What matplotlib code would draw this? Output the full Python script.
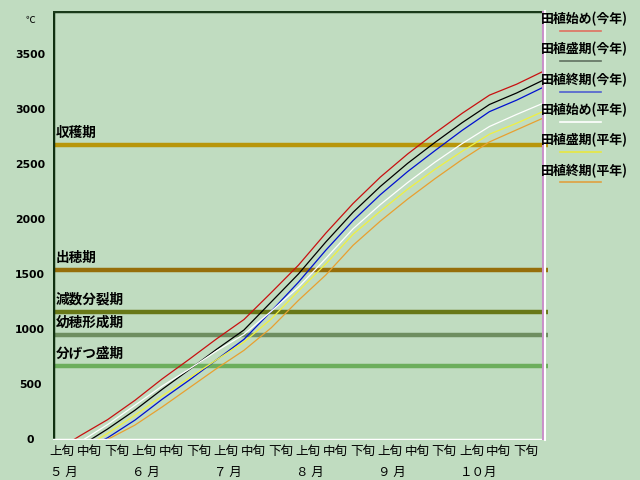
import matplotlib.pyplot as plt
from matplotlib.lines import Line2D

plt.rcParams['font.family'] = ['Noto Sans CJK JP', 'DejaVu Sans']

# x = dekad index from May 1 (0) to Oct 31 (18)
dekad = list(range(2, 19))
# cumulative temperature (℃) read at each dekad boundary, with the start point in front
red_x = [0.74, 1] + dekad
red_y = [0, 40, 185, 360, 555, 735, 920, 1095, 1340, 1590, 1880, 2150, 2390, 2600, 2790, 2970, 3135, 3235, 3355]
black_x = [1.36] + dekad
black_y = [0, 100, 270, 460, 640, 825, 1000, 1255, 1510, 1800, 2070, 2305, 2515, 2705, 2885, 3050, 3155, 3275]
blue_x = [1.84] + dekad
blue_y = [0, 20, 180, 370, 545, 730, 915, 1170, 1435, 1725, 1995, 2230, 2440, 2630, 2815, 2985, 3090, 3210]
white_x = [1.1] + dekad
white_y = [0, 140, 315, 490, 645, 810, 960, 1170, 1390, 1650, 1920, 2140, 2340, 2525, 2695, 2850, 2960, 3065]
yellow_x = [1.6] + dekad
yellow_y = [0, 60, 225, 400, 565, 730, 890, 1100, 1355, 1600, 1870, 2080, 2280, 2460, 2625, 2780, 2880, 2990]
orange_x = [1.98] + dekad
orange_y = [0, 5, 135, 300, 475, 650, 815, 1020, 1270, 1500, 1770, 1990, 2190, 2375, 2550, 2710, 2820, 2930]

stage_names = ['収穫期', '出穂期', '減数分裂期', '幼穂形成期', '分げつ盛期']
stage_values = [2680, 1545, 1165, 955, 675]
stage_colors = ['#B8960B', '#966E0A', '#687818', '#6E8E60', '#6CAE5C']

legend_names = ['田植始め(今年)', '田植盛期(今年)', '田植終期(今年)',
                '田植始め(平年)', '田植盛期(平年)', '田植終期(平年)']
line_colors = ['#C81010', '#000000', '#0010D0', '#FFFFFF', '#F0F040', '#E8A030']
legend_colors = ['#E07060', '#607060', '#5060D0', '#FFFFFF', '#E8E840', '#E0A040']

dekad_names = ['上旬', '中旬', '下旬'] * 6
month_names = ['５ 月', '６ 月', '７ 月', '８ 月', '９ 月', '１０月']
yticks = [0, 500, 1000, 1500, 2000, 2500, 3000, 3500]

bg = '#C0DCC0'
fig = plt.figure(figsize=(6.4, 4.8), dpi=100, facecolor=bg)
ax = fig.add_axes([53 / 640, 1 - 440 / 480, 491 / 640, 429 / 480], facecolor=bg)
ax.set_xlim(0, 18)
ax.set_ylim(0, 3900)
ax.set_xticks([])
ax.set_yticks([])

for sp in ax.spines.values():
    sp.set_visible(False)
ax.axvline(0, color='#103010', lw=2.5, zorder=5)
ax.axhline(3900, color='#1A3A1A', lw=2.5, zorder=5)
ax.axhline(0, color='white', lw=2.5, zorder=5)
ax.axvline(17.95, color='#C890C8', lw=2.2, zorder=5)
ax.axvline(18.05, color='white', lw=1.5, zorder=5, clip_on=False)

# growth stage bands
for name, v, c in zip(stage_names, stage_values, stage_colors):
    ax.plot([0, 18.15], [v, v], color=c, lw=3.2, zorder=2, clip_on=False,
            solid_capstyle='butt')
    ax.text(0.1, v + 45, name, fontsize=9.8, fontweight='bold', va='bottom',
            ha='left', zorder=3)

series = [(red_x, red_y), (black_x, black_y), (blue_x, blue_y),
          (white_x, white_y), (yellow_x, yellow_y), (orange_x, orange_y)]
for (xs, ys), c in zip(series, line_colors):
    ax.plot(xs, ys, color=c, lw=0.9, zorder=4)

# y labels
for t in yticks:
    ax.text(-23 / 27.3, t, str(t), fontsize=7.8, fontweight='bold',
            ha='center', va='center', family='DejaVu Sans')
fig.text(30 / 640, 1 - 20 / 480, '℃', fontsize=7, ha='center', va='center')

# x labels
for i, name in enumerate(dekad_names):
    ax.text(i - 0.12, -0.012, name, transform=ax.get_xaxis_transform(),
            fontsize=9, ha='left', va='top')
for i, name in enumerate(month_names):
    ax.text(3 * i - 0.1, -0.06, name, transform=ax.get_xaxis_transform(),
            fontsize=9, ha='left', va='top')

# legend on the right
for i, (name, c) in enumerate(zip(legend_names, legend_colors)):
    ty = 19 + 30.3 * i
    fig.text(541 / 640, 1 - ty / 480, name, fontsize=9.3, fontweight='bold',
             ha='left', va='center')
    fig.add_artist(Line2D([560 / 640, 601 / 640],
                          [1 - (ty + 12) / 480, 1 - (ty + 12) / 480],
                          color=c, lw=1.2))

fig.savefig('out.png', dpi=100, facecolor=bg)
